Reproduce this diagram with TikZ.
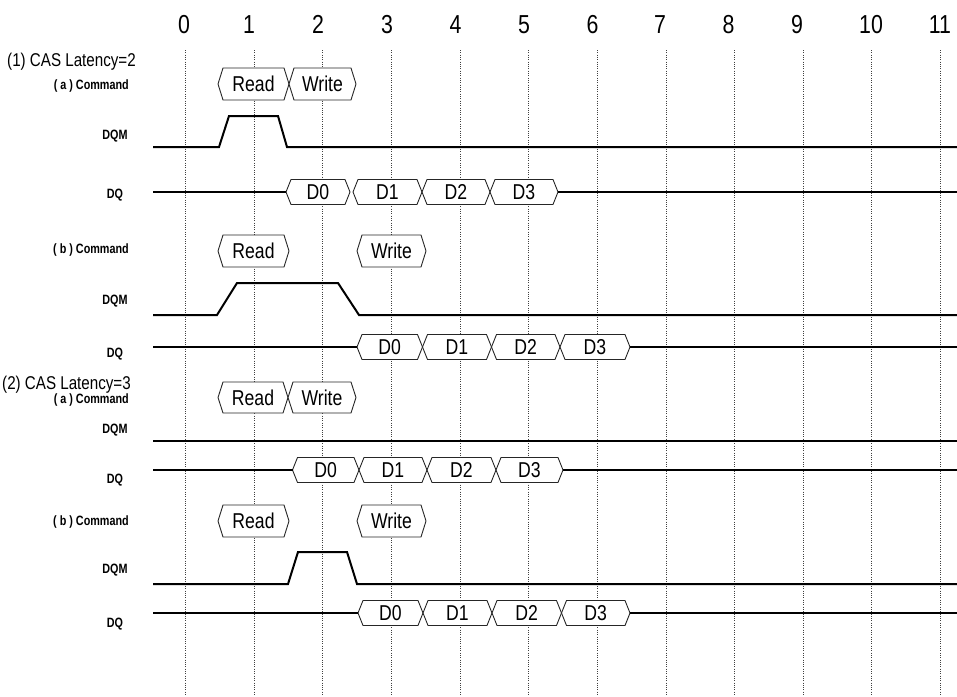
\documentclass[tikz,border=0pt]{standalone}
\usepackage{fontspec}
\setmainfont{Liberation Sans}[FakeStretch=0.82]
\newfontfamily\lblfont{Liberation Sans}[FakeStretch=0.8]
\newcommand\hexbox[6]{%
  \path[hexline] (#2,#4) coordinate (#1-w) -- ({#2+5},{#4-#5}) -- ({#3-5},{#4-#5})
    -- (#3,#4) coordinate (#1-e) -- ({#3-5},{#4+#5}) -- ({#2+5},{#4+#5}) -- cycle;
  \node[boxtext] (#1) at ({(#2+#3)/2},#4) {#6};}
\begin{document}
\begin{tikzpicture}[x=1pt,y=-1pt,
  gridline/.style={black!75, line width=0.7pt, dash pattern=on 1pt off 1.3pt},
  wave/.style={black, line width=2pt, line join=miter},
  hexline/.style={draw=black!85, line width=0.9pt, fill=white, line join=miter},
  boxtext/.style={inner sep=0pt, font=\fontsize{21.5}{24}\selectfont},
  numtext/.style={inner sep=0pt, anchor=base, font=\fontsize{26}{30}\selectfont},
  titletext/.style={inner sep=0pt, anchor=base east, font=\fontsize{18.5}{21}\selectfont},
  cmdlabel/.style={inner sep=0pt, anchor=base east, font=\lblfont\bfseries\fontsize{13.5}{16}\selectfont},
  siglabel/.style={inner sep=0pt, anchor=base, font=\lblfont\bfseries\fontsize{13.5}{16}\selectfont}]
\useasboundingbox (0,0) rectangle (957,696);
\fill[white] (0,0) rectangle (957,696);

% clock grid
\foreach \i in {0,...,11} {
  \coordinate (gt\i) at ({185.3+68.65*\i},50);
  \coordinate (gb\i) at ({185.3+68.65*\i},696);
  \draw[gridline] (gt\i) -- (gb\i);
}
\foreach \i/\x in {0/184,1/249,2/318,3/387,4/455.5,5/524,6/592.5,7/660,8/728.5,9/797,10/871,11/940}
  \node[numtext] (num\i) at (\x,33) {\i};

% ---------- (1) CAS Latency = 2 ----------
\node[titletext] (t1) at (136,66) {(1) CAS Latency=2};

% (a)
\node[cmdlabel] (l1ac) at (129,89) {( a ) Command};
\node[siglabel] (l1am) at (115,139) {DQM};
\node[siglabel] (l1aq) at (115,198) {DQ};
\hexbox{c1aR}{218}{289}{84}{16}{Read}
\hexbox{c1aW}{289}{356}{84}{16}{Write}
\coordinate (m1as) at (153,147); \coordinate (m1ae) at (957,147);
\draw[wave] (m1as) -- (219,147) -- (229,116) -- (278,116) -- (287,147) -- (m1ae);
\hexbox{d1a0}{286}{350}{192}{12.5}{D0}
\hexbox{d1a1}{353}{422}{192}{12.5}{D1}
\hexbox{d1a2}{422}{490}{192}{12.5}{D2}
\hexbox{d1a3}{490}{558}{192}{12.5}{D3}
\coordinate (q1as) at (153,192); \coordinate (q1ae) at (957,192);
\draw[wave] (q1as) -- (d1a0-w);
\draw[wave] (d1a3-e) -- (q1ae);

% (b)
\node[cmdlabel] (l1bc) at (129,253) {( b ) Command};
\node[siglabel] (l1bm) at (115,304) {DQM};
\node[siglabel] (l1bq) at (115,357) {DQ};
\hexbox{c1bR}{218}{289}{251}{16}{Read}
\hexbox{c1bW}{357}{426}{251}{16}{Write}
\coordinate (m1bs) at (153,315); \coordinate (m1be) at (957,315);
\draw[wave] (m1bs) -- (217,315) -- (237,283) -- (338,283) -- (359,315) -- (m1be);
\hexbox{d1b0}{357}{422.5}{347}{12.5}{D0}
\hexbox{d1b1}{422.5}{491.5}{347}{12.5}{D1}
\hexbox{d1b2}{491.5}{560}{347}{12.5}{D2}
\hexbox{d1b3}{560}{630}{347}{12.5}{D3}
\coordinate (q1bs) at (153,347); \coordinate (q1be) at (957,347);
\draw[wave] (q1bs) -- (d1b0-w);
\draw[wave] (d1b3-e) -- (q1be);

% ---------- (2) CAS Latency = 3 ----------
\node[titletext] (t2) at (131,389) {(2) CAS Latency=3};

% (a)
\node[cmdlabel] (l2ac) at (129,403) {( a ) Command};
\node[siglabel] (l2am) at (115,433) {DQM};
\node[siglabel] (l2aq) at (115,483) {DQ};
\hexbox{c2aR}{218}{288}{397.5}{15.5}{Read}
\hexbox{c2aW}{288}{356}{397.5}{15.5}{Write}
\coordinate (m2as) at (153,441); \coordinate (m2ae) at (957,441);
\draw[wave] (m2as) -- (m2ae);
\hexbox{d2a0}{292.5}{359}{470}{12.5}{D0}
\hexbox{d2a1}{359}{427}{470}{12.5}{D1}
\hexbox{d2a2}{427}{496}{470}{12.5}{D2}
\hexbox{d2a3}{496}{563}{470}{12.5}{D3}
\coordinate (q2as) at (153,470); \coordinate (q2ae) at (957,470);
\draw[wave] (q2as) -- (d2a0-w);
\draw[wave] (d2a3-e) -- (q2ae);

% (b)
\node[cmdlabel] (l2bc) at (129,525) {( b ) Command};
\node[siglabel] (l2bm) at (115,573) {DQM};
\node[siglabel] (l2bq) at (115,627) {DQ};
\hexbox{c2bR}{218}{289}{521}{16}{Read}
\hexbox{c2bW}{357}{426}{521}{16}{Write}
\coordinate (m2bs) at (153,584); \coordinate (m2be) at (957,584);
\draw[wave] (m2bs) -- (288,584) -- (298,552) -- (347,552) -- (357,584) -- (m2be);
\hexbox{d2b0}{358}{423}{613}{12.5}{D0}
\hexbox{d2b1}{423}{492}{613}{12.5}{D1}
\hexbox{d2b2}{492}{561.5}{613}{12.5}{D2}
\hexbox{d2b3}{561.5}{630}{613}{12.5}{D3}
\coordinate (q2bs) at (153,613); \coordinate (q2be) at (957,613);
\draw[wave] (q2bs) -- (d2b0-w);
\draw[wave] (d2b3-e) -- (q2be);
\end{tikzpicture}
\end{document}
